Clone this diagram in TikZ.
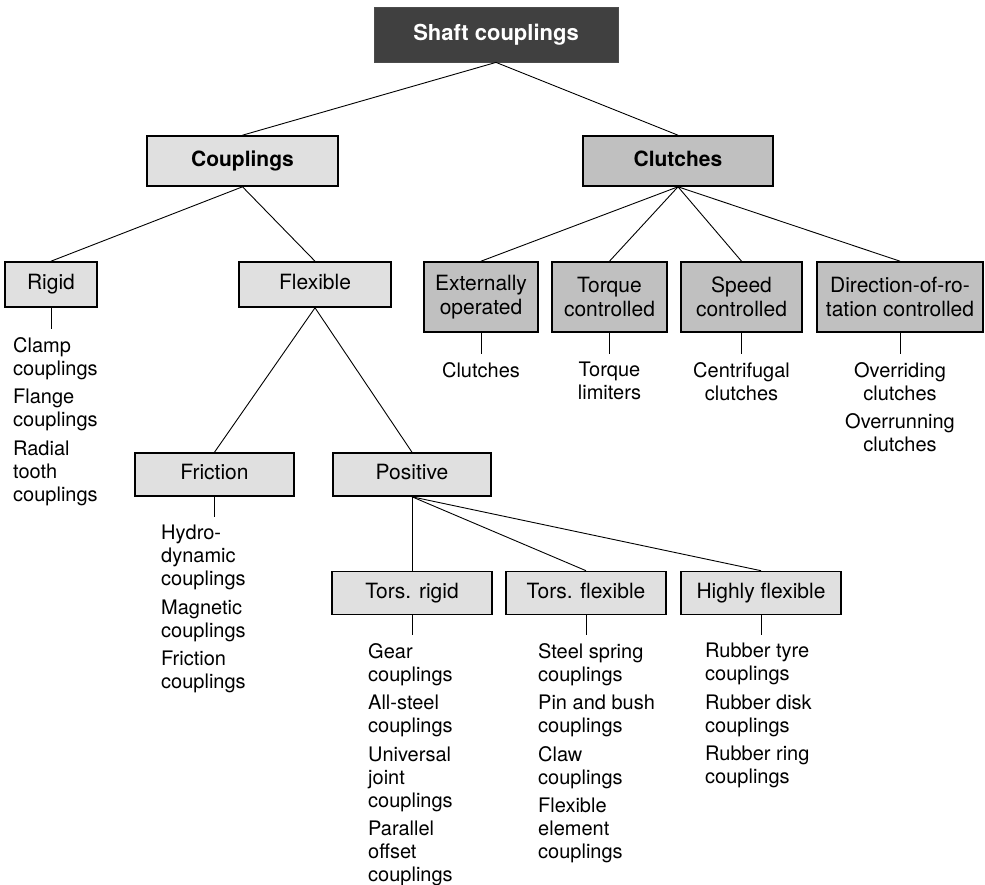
\documentclass[tikz,border=0pt]{standalone}
\usepackage{fontspec}
\setmainfont{TeX Gyre Heros}

\begin{document}
\begin{tikzpicture}[x=1pt, y=-1pt]
    % --- MANUAL CONFIGURATION ---
    % 1. Picture frame (in px of the drawing, y grows downwards)
    \useasboundingbox (0,0) rectangle (985,885);

    % 2. Colors of the boxes
    \definecolor{darkBox}{RGB}{64, 64, 64}
    \definecolor{lightBox}{RGB}{224, 224, 224}
    \definecolor{midBox}{RGB}{192, 192, 192}

    % --- STYLES ---
    \tikzset{
        rootNode/.style={rectangle, draw=black!70, fill=darkBox, line width=0.8pt, minimum width=244pt, minimum height=55pt, text=white, font=\fontsize{22}{26}\selectfont\bfseries},
        groupNode/.style={rectangle, draw=black, line width=1.6pt, minimum height=50pt, text height=15.5pt, text depth=4.5pt, font=\fontsize{21}{24}\selectfont\bfseries},
        typeNode/.style={rectangle, draw=black, fill=lightBox, line width=1.6pt, inner sep=2pt, align=center, font=\fontsize{21}{24}\selectfont},
        oneLine/.style={text height=15pt, text depth=4.5pt},
        listNode/.style={inner xsep=0pt, inner ysep=8pt, font=\fontsize{20}{23}\selectfont},
        linkLine/.style={draw=black, line width=0.9pt}
    }

    % --- NODES ---

    % Top
    \node[rootNode] (shaft) at (496,34.5) {Shaft couplings};

    % Second level
    \node[groupNode, fill=lightBox, minimum width=191pt] (coupl) at (242.5,161) {Couplings};
    \node[groupNode, fill=midBox, minimum width=190pt] (clutch) at (678,161) {Clutches};

    % Couplings branch
    \node[typeNode, oneLine, minimum width=92pt, minimum height=45pt] (rigid) at (51,284.5) {Rigid};
    \node[typeNode, oneLine, minimum width=152pt, minimum height=45pt] (flex) at (315,284.5) {Flexible};
    \node[typeNode, oneLine, minimum width=159pt, minimum height=43pt] (friction) at (214.5,474.5) {Friction};
    \node[typeNode, oneLine, minimum width=158pt, minimum height=43pt] (positive) at (412,474.5) {Positive};
    \node[typeNode, oneLine, minimum width=160pt, minimum height=43pt] (torsRigid) at (412,593) {Tors. rigid};
    \node[typeNode, oneLine, minimum width=160pt, minimum height=43pt] (torsFlex) at (586,593) {Tors. flexible};
    \node[typeNode, oneLine, minimum width=160pt, minimum height=43pt] (highFlex) at (761,593) {Highly flexible};

    % Clutches branch
    \node[typeNode, fill=midBox, minimum width=114pt, minimum height=70pt] (extOp) at (481,297) {Externally\\operated};
    \node[typeNode, fill=midBox, minimum width=115pt, minimum height=70pt] (torque) at (609.5,297) {Torque\\controlled};
    \node[typeNode, fill=midBox, minimum width=121pt, minimum height=70pt] (speed) at (741.5,297) {Speed\\controlled};
    \node[typeNode, fill=midBox, minimum width=166pt, minimum height=70pt] (direct) at (900,297) {Direction-of-ro-\\tation controlled};

    % Lists of examples
    \node[listNode, anchor=north west, align=left] (rigidList) at (13,329) {Clamp\\couplings\\[5.5pt]Flange\\couplings\\[5.5pt]Radial\\tooth\\couplings};
    \node[listNode, anchor=north west, align=left] (frictionList) at (161,517) {Hydro-\\dynamic\\couplings\\[5.5pt]Magnetic\\couplings\\[5.5pt]Friction\\couplings};
    \node[listNode, anchor=north west, align=left] (torsRigidList) at (368,635) {Gear\\couplings\\[5.5pt]All-steel\\couplings\\[5.5pt]Universal\\joint\\couplings\\[5.5pt]Parallel\\offset\\couplings};
    \node[listNode, anchor=north west, align=left] (torsFlexList) at (538,635) {Steel spring\\couplings\\[5.5pt]Pin and bush\\couplings\\[5.5pt]Claw\\couplings\\[5.5pt]Flexible\\element\\couplings};
    \node[listNode, anchor=north west, align=left] (highFlexList) at (705,635) {Rubber tyre\\couplings\\[5.5pt]Rubber disk\\couplings\\[5.5pt]Rubber ring\\couplings};

    \node[listNode, anchor=north, align=center] (extOpList) at (481,354) {Clutches};
    \node[listNode, anchor=north, align=center] (torqueList) at (609.5,354) {Torque\\limiters};
    \node[listNode, anchor=north, align=center] (speedList) at (741.5,354) {Centrifugal\\clutches};
    \node[listNode, anchor=north, align=center] (directList) at (900,354) {Overriding\\clutches\\[5.5pt]Overrunning\\clutches};

    % --- LINES ---

    % Tree branches
    \draw[linkLine] (shaft.south) -- (coupl.north);
    \draw[linkLine] (shaft.south) -- (clutch.north);
    \draw[linkLine] (coupl.south) -- (rigid.north);
    \draw[linkLine] (coupl.south) -- (flex.north);
    \draw[linkLine] (flex.south) -- (friction.north);
    \draw[linkLine] (flex.south) -- (positive.north);
    \draw[linkLine] (positive.south) -- (torsRigid.north);
    \draw[linkLine] (positive.south) -- (torsFlex.north);
    \draw[linkLine] (positive.south) -- (highFlex.north);
    \draw[linkLine] (clutch.south) -- (extOp.north);
    \draw[linkLine] (clutch.south) -- (torque.north);
    \draw[linkLine] (clutch.south) -- (speed.north);
    \draw[linkLine] (clutch.south) -- (direct.north);

    % Short drops to the lists
    \draw[linkLine] (rigid.south) -- (rigid.south |- rigidList.north);
    \draw[linkLine] (friction.south) -- (friction.south |- frictionList.north);
    \draw[linkLine] (torsRigid.south) -- (torsRigid.south |- torsRigidList.north);
    \draw[linkLine] (torsFlex.south) -- (torsFlex.south |- torsFlexList.north);
    \draw[linkLine] (highFlex.south) -- (highFlex.south |- highFlexList.north);
    \draw[linkLine] (extOp.south) -- (extOpList.north);
    \draw[linkLine] (torque.south) -- (torqueList.north);
    \draw[linkLine] (speed.south) -- (speedList.north);
    \draw[linkLine] (direct.south) -- (directList.north);

\end{tikzpicture}
\end{document}
